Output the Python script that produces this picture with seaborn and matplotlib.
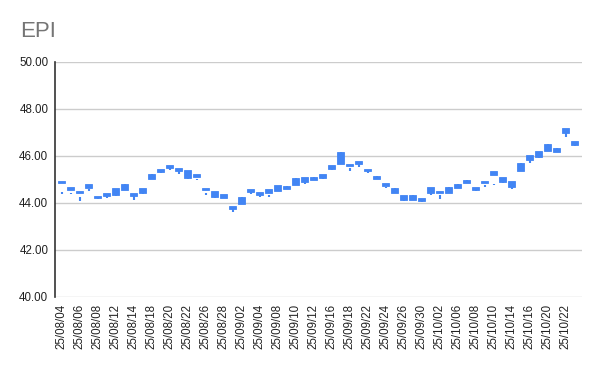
import numpy as np
import pandas as pd
import matplotlib
matplotlib.use("Agg")
import matplotlib.pyplot as plt
import seaborn as sns

# trading days shown on the category axis
dates = ["25/08/04", "25/08/05", "25/08/06", "25/08/07", "25/08/08",
         "25/08/11", "25/08/12", "25/08/13", "25/08/14", "25/08/15",
         "25/08/18", "25/08/19", "25/08/20", "25/08/21", "25/08/22",
         "25/08/25", "25/08/26", "25/08/27", "25/08/28", "25/08/29",
         "25/09/02", "25/09/03", "25/09/04", "25/09/05",
         "25/09/08", "25/09/09", "25/09/10", "25/09/11", "25/09/12",
         "25/09/15", "25/09/16", "25/09/17", "25/09/18", "25/09/19",
         "25/09/22", "25/09/23", "25/09/24", "25/09/25", "25/09/26",
         "25/09/29", "25/09/30", "25/10/01", "25/10/02", "25/10/03",
         "25/10/06", "25/10/07", "25/10/08", "25/10/09", "25/10/10",
         "25/10/13", "25/10/14", "25/10/15", "25/10/16", "25/10/17",
         "25/10/20", "25/10/21", "25/10/22", "25/10/23"]

# candle body (upper / lower edge)
body_top = [44.92, 44.67, 44.52, 44.81, 44.30, 44.44, 44.62, 44.80, 44.41, 44.65,
            45.23, 45.43, 45.62, 45.48, 45.40, 45.23, 44.64, 44.50, 44.38, 43.86,
            44.27, 44.60, 44.48, 44.60, 44.77, 44.72, 45.06, 45.11, 45.11, 45.23,
            45.62, 46.17, 45.66, 45.79, 45.45, 45.15, 44.85, 44.64, 44.33, 44.33,
            44.23, 44.67, 44.52, 44.67, 44.82, 44.98, 44.68, 44.94, 45.35, 45.12,
            44.94, 45.68, 46.03, 46.21, 46.50, 46.35, 47.21, 46.64]
body_bottom = [44.84, 44.57, 44.44, 44.65, 44.21, 44.29, 44.34, 44.55, 44.29, 44.44,
               45.00, 45.31, 45.49, 45.36, 45.05, 45.11, 44.55, 44.26, 44.23, 43.76,
               43.97, 44.48, 44.34, 44.43, 44.52, 44.58, 44.77, 44.88, 44.98, 45.08,
               45.45, 45.66, 45.57, 45.67, 45.35, 45.01, 44.74, 44.41, 44.14, 44.14,
               44.10, 44.44, 44.44, 44.44, 44.62, 44.85, 44.57, 44.84, 45.19, 44.91,
               44.69, 45.37, 45.83, 45.94, 46.23, 46.17, 46.99, 46.47]

# wick line (upper / lower end)
wick_top = [44.48, 44.44, 44.27, 44.58, 44.21, 44.29, 44.34, 44.80, 44.29, 44.44,
            45.23, 45.31, 45.49, 45.36, 45.05, 45.03, 44.43, 44.26, 44.23, 43.76,
            44.27, 44.48, 44.34, 44.36, 44.52, 44.72, 45.06, 44.88, 45.11, 45.08,
            45.45, 46.17, 45.49, 45.67, 45.35, 45.15, 44.69, 44.64, 44.14, 44.33,
            44.10, 44.44, 44.36, 44.67, 44.82, 44.98, 44.57, 44.78, 44.82, 44.91,
            44.69, 45.68, 45.83, 45.94, 46.50, 46.35, 46.99, 46.47]
wick_bottom = [44.37, 44.40, 44.09, 44.51, 44.18, 44.23, 44.31, 44.55, 44.14, 44.37,
               45.00, 45.27, 45.42, 45.22, 45.00, 44.99, 44.33, 44.20, 44.20, 43.60,
               43.97, 44.40, 44.26, 44.27, 44.49, 44.58, 44.77, 44.82, 44.98, 45.02,
               45.40, 45.66, 45.37, 45.54, 45.29, 45.01, 44.62, 44.41, 44.09, 44.14,
               44.05, 44.35, 44.18, 44.44, 44.62, 44.85, 44.51, 44.69, 44.78, 44.86,
               44.61, 45.37, 45.72, 45.91, 46.23, 46.17, 46.82, 46.43]

y_ticks = [40, 42, 44, 46, 48, 50]

df = pd.DataFrame({"date": dates, "body_top": body_top, "body_bottom": body_bottom,
                   "wick_top": wick_top, "wick_bottom": wick_bottom})
df["pos"] = np.arange(len(df))

sns.set_style("white")
plt.rcParams["font.family"] = ["Liberation Sans", "DejaVu Sans"]

blue = "#4285F4"
fig = plt.figure(figsize=(6, 3.71), dpi=100)
ax = fig.add_axes([0.092, 0.1995, 0.878, 0.6335])

# wicks first, then bodies on top
ax.vlines(df["pos"], df["wick_bottom"], df["wick_top"], color=blue, lw=1.5, zorder=3)
ax.bar(df["pos"], df["body_top"] - df["body_bottom"], bottom=df["body_bottom"],
       width=0.8, color=blue, edgecolor=blue, linewidth=0.6, zorder=4)

ax.set_ylim(40, 50)
ax.set_xlim(-0.7, 57.8)
ax.set_yticks(y_ticks)
ax.set_yticklabels(["%.2f" % v for v in y_ticks], fontsize=8.3, color="#222222")
ax.set_xticks(df["pos"][::2])
ax.set_xticklabels(df["date"][::2], rotation=90, fontsize=8.3, color="#222222")
ax.tick_params(axis="both", length=0, pad=5)

ax.yaxis.grid(True, color="#cccccc", lw=1, zorder=0)
ax.xaxis.grid(False)
for s in ["top", "right", "bottom"]:
    ax.spines[s].set_visible(False)
ax.spines["left"].set_color("#333333")
ax.spines["left"].set_linewidth(1.2)
ax.set_xlabel("")
ax.set_ylabel("")

fig.text(0.033, 0.916, "EPI", fontsize=16, color="#757575", va="center", ha="left")

fig.savefig("out.png", dpi=100)
